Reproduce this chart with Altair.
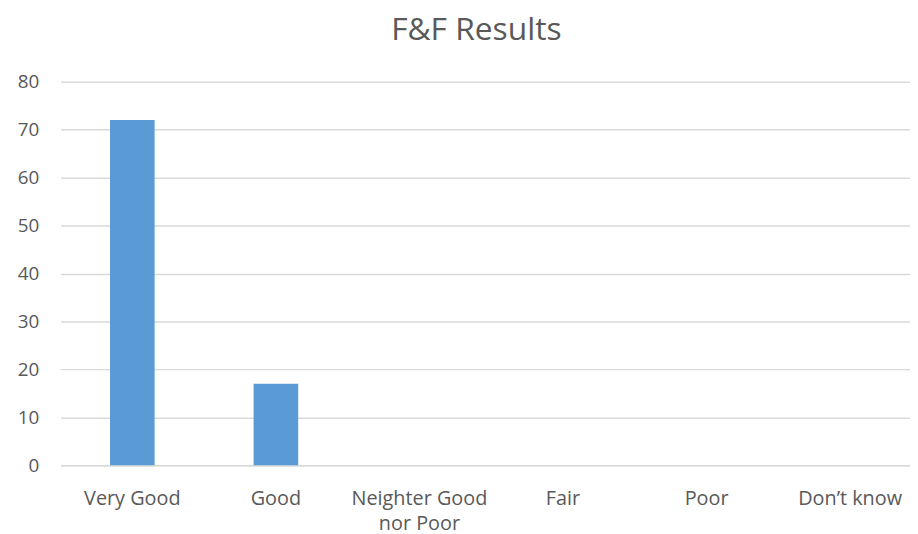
import altair as alt
import pandas as pd

categories = ["Very Good", "Good", "Neighter Good nor Poor", "Fair", "Poor", "Don’t know"]
counts = [72, 17, 0, 0, 0, 0]
y_ticks = [0, 10, 20, 30, 40, 50, 60, 70, 80]

df = pd.DataFrame({"category": categories, "count": counts})

FONT = "Open Sans"
TXT = "#595959"
GRID = "#D9D9D9"

chart = (
    alt.Chart(df)
    .mark_bar(color="#5B9BD5", width=45)
    .encode(
        x=alt.X(
            "category:N",
            sort=categories,
            scale=alt.Scale(domain=categories, range=[0, 869], paddingInner=0, paddingOuter=0),
            axis=alt.Axis(
                title=None,
                labelAngle=0,
                ticks=False,
                domain=True,
                domainColor=GRID,
                domainWidth=1.5,
                labelFont=FONT,
                labelFontSize=20,
                labelColor=TXT,
                labelPadding=24,
                labelLineHeight=25,
                labelExpr="datum.value == 'Neighter Good nor Poor' ? ['Neighter Good', 'nor Poor'] : datum.value",
                grid=False,
            ),
        ),
        y=alt.Y(
            "count:Q",
            scale=alt.Scale(domain=[0, 80], nice=False),
            axis=alt.Axis(
                title=None,
                values=y_ticks,
                ticks=False,
                domain=False,
                grid=True,
                gridColor=GRID,
                gridWidth=1.5,
                labelFont=FONT,
                labelFontSize=19,
                labelColor=TXT,
                labelPadding=22,
            ),
        ),
    )
    .properties(
        width=857,
        height=387,
        title=alt.TitleParams(
            "F&F Results",
            font=FONT,
            fontSize=32,
            fontWeight="normal",
            color=TXT,
            anchor="middle",
            dx=-9,
            offset=26,
        ),
        autosize=alt.AutoSizeParams(type="none"),
        padding={"left": 53, "top": 72, "right": 0, "bottom": 67},
    )
    .configure_view(stroke=None)
)

chart.save("out.html", embed_options={"renderer": "svg", "actions": False})
